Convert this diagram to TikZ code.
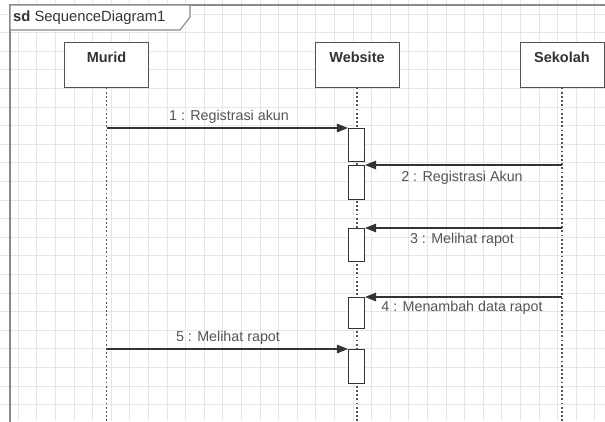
\documentclass[tikz,border=0pt]{standalone}
\usepackage{fontspec}
\setmainfont{Liberation Sans}
\usetikzlibrary{arrows.meta}
\definecolor{gridc}{HTML}{E6E6E6}
\definecolor{ink}{HTML}{333333}
\definecolor{labelc}{HTML}{555555}
\definecolor{framec}{HTML}{8A8A8A}
\tikzset{
  lifebox/.style={draw=ink!85, line width=1pt, fill=white, minimum width=84pt,
    minimum height=45pt, inner sep=0pt},
  lifetitle/.style={font=\fontsize{14.5}{16}\selectfont\bfseries, text=ink},
  actbox/.style={draw=ink, line width=1.1pt, fill=white, minimum width=16pt, inner sep=0pt},
  lifeline/.style={draw=ink!85, line width=1.6pt, dash pattern=on 1.8pt off 2.4pt},
  msg/.style={draw=ink, line width=1.3pt, -{Triangle[length=11pt,width=8.5pt]}},
  msglabel/.style={font=\fontsize{14.3}{16}\selectfont, text=labelc, inner sep=0pt}
}
\begin{document}
\begin{tikzpicture}[x=1pt,y=-1pt]
\useasboundingbox (0,0) rectangle (605,421);
\fill[white] (0,0) rectangle (605,421);
% background grid
\foreach \i in {0,...,32} {
  \draw[gridc, line width=0.8pt] ({-0.4+18.6*\i},0) -- ({-0.4+18.6*\i},421);
}
\foreach \j in {0,...,22} {
  \draw[gridc, line width=0.8pt] (0,{-4.6+18.6*\j}) -- (605,{-4.6+18.6*\j});
}
% frame with its name tag
\draw[framec, line width=1.1pt] (10,440) -- (10,5) -- (620,5);
\draw[framec, line width=1.1pt, fill=white] (10,5) -- (190,5) -- (190,17) -- (180,30) -- (10,30) -- cycle;
\node[anchor=west, inner sep=0pt, text=ink, font=\fontsize{14.8}{16}\selectfont] (sdtag) at (13,18)
  {\textbf{sd} SequenceDiagram1};
% lifeline heads
\node[lifebox] (murid) at (106.5,64.5) {};
\node[lifebox] (web) at (357,64.5) {};
\node[lifebox] (sekolah) at (562,64.5) {};
\node[lifetitle] (muridt) at (106.5,57) {Murid};
\node[lifetitle] (webt) at (357,57) {Website};
\node[lifetitle] (sekolaht) at (562,57) {Sekolah};
% lifelines
\coordinate (murid-end) at (106.5,425);
\coordinate (web-end) at (357,425);
\coordinate (sekolah-end) at (562,425);
\draw[lifeline] (murid.south) -- (murid-end);
\draw[lifeline] (web.south) -- (web-end);
\draw[lifeline] (sekolah.south) -- (sekolah-end);
% activations
\node[actbox, minimum height=33pt, anchor=north] (a1) at (356.5,128) {};
\node[actbox, minimum height=34pt, anchor=north] (a2) at (356.5,165) {};
\node[actbox, minimum height=33pt, anchor=north] (a3) at (356.5,228) {};
\node[actbox, minimum height=31pt, anchor=north] (a4) at (356.5,297) {};
\node[actbox, minimum height=34pt, anchor=north] (a5) at (356.5,349) {};
% messages
\draw[msg] (murid |- a1.north west) -- (a1.north west);
\draw[msg] (sekolah |- a2.north east) -- (a2.north east);
\draw[msg] (sekolah |- a3.north east) -- (a3.north east);
\draw[msg] (sekolah |- a4.north east) -- (a4.north east);
\draw[msg] (murid |- a5.north west) -- (a5.north west);
\node[msglabel] (l1) at (229,117) {1 : Registrasi akun};
\node[msglabel] (l2) at (462,178) {2 : Registrasi Akun};
\node[msglabel] (l3) at (462,240) {3 : Melihat rapot};
\node[msglabel] (l4) at (462,308) {4 : Menambah data rapot};
\node[msglabel] (l5) at (228,338) {5 : Melihat rapot};
\end{tikzpicture}
\end{document}
